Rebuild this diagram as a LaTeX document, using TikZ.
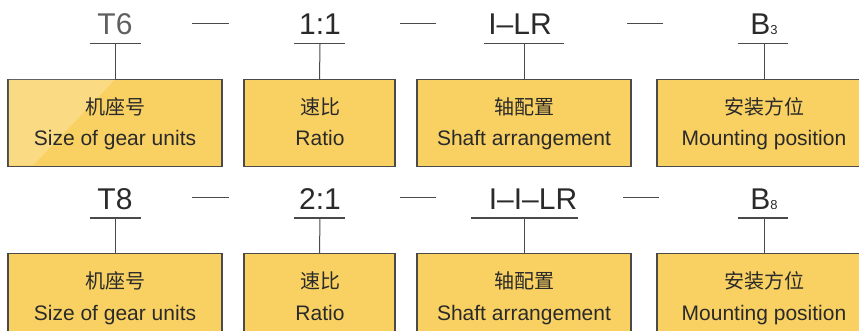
\documentclass[tikz,border=0pt]{standalone}
\usepackage{fontspec}
\setmainfont{Liberation Sans}
\newfontfamily\cjk{Noto Sans CJK SC}
\definecolor{boxfill}{HTML}{F9D162}
\definecolor{ink}{HTML}{2A2A2A}
\definecolor{lineclr}{HTML}{4A4A4A}
\newcommand\subnum[1]{{\fontsize{13}{13}\selectfont #1}}
\begin{document}
\begin{tikzpicture}[x=1pt,y=-1pt,
  box/.style={draw=lineclr, line width=1.1pt, fill=boxfill, minimum height=87pt, inner sep=0pt, anchor=north},
  code/.style={font=\fontsize{30}{30}\selectfont, text=ink, anchor=base, inner sep=0pt},
  cn/.style={font=\cjk\fontsize{20}{20}\selectfont, text=ink, inner sep=0pt},
  en/.style={font=\fontsize{21}{21}\selectfont, text=ink, anchor=base, inner sep=0pt},
  conn/.style={draw=lineclr, line width=1pt}]
\useasboundingbox (0,0) rectangle (859,331);
\clip (0,0) rectangle (859,331);

% ---------- top row ----------
\node[box, minimum width=214pt] (b1) at (115,79) {};
\fill[white, opacity=0.22] (8.5,79.5) -- (115,79.5) -- (33,165.5) -- (8.5,165.5) -- cycle;
\node[box, minimum width=151pt] (b2) at (319.5,79) {};
\node[box, minimum width=214pt] (b3) at (524,79) {};
\node[box, minimum width=214pt] (b4) at (764,79) {};

\node[code, text=ink!75] (l1) at (115,35) {T6};
\node[code] (l2) at (320,35) {1:1};
\node[code] (l3) at (520,35) {I--LR};
\node[code] (l4) at (764,35) {B\subnum{3}};

\coordinate (u1a) at (90,44);  \coordinate (u1b) at (141,44); \coordinate (u1) at (115,44);
\coordinate (u2a) at (294,44); \coordinate (u2b) at (345,44); \coordinate (u2) at (320,44);
\coordinate (u3a) at (484,44); \coordinate (u3b) at (564,44); \coordinate (u3) at (524,44);
\coordinate (u4a) at (738,44); \coordinate (u4b) at (788,44); \coordinate (u4) at (764,44);
\foreach \i in {1,2,3,4}{
  \draw[conn] (u\i a) -- (u\i b);
  \draw[conn] (u\i) -- (b\i.north);
}
\coordinate (d1a) at (192,24); \coordinate (d1b) at (229,24);
\coordinate (d2a) at (400,24); \coordinate (d2b) at (436,24);
\coordinate (d3a) at (627,24); \coordinate (d3b) at (663,24);
\foreach \i in {1,2,3}{ \draw[conn] (d\i a) -- (d\i b); }

\node[cn] (c1) at (115,107) {机座号};
\node[en] (e1) at (115,146) {Size of gear units};
\node[cn] (c2) at (320,107) {速比};
\node[en] (e2) at (320,146) {Ratio};
\node[cn] (c3) at (524,107) {轴配置};
\node[en] (e3) at (524,146) {Shaft arrangement};
\node[cn] (c4) at (764,107) {安装方位};
\node[en] (e4) at (764,146) {Mounting position};

% ---------- bottom row ----------
\node[box, minimum width=214pt] (B1) at (115,253) {};
\node[box, minimum width=151pt] (B2) at (319.5,253) {};
\node[box, minimum width=214pt] (B3) at (524,253) {};
\node[box, minimum width=214pt] (B4) at (764,253) {};

\node[code] (L1) at (115,209) {T8};
\node[code] (L2) at (320,209) {2:1};
\node[code] (L3) at (533,209) {I--I--LR};
\node[code] (L4) at (764,209) {B\subnum{8}};

\coordinate (U1a) at (90,218);  \coordinate (U1b) at (141,218); \coordinate (U1) at (115,218);
\coordinate (U2a) at (294,218); \coordinate (U2b) at (345,218); \coordinate (U2) at (320,218);
\coordinate (U3a) at (471,218); \coordinate (U3b) at (578,218); \coordinate (U3) at (524,218);
\coordinate (U4a) at (738,218); \coordinate (U4b) at (788,218); \coordinate (U4) at (764,218);
\foreach \i in {1,2,3,4}{
  \draw[conn] (U\i a) -- (U\i b);
  \draw[conn] (U\i) -- (B\i.north);
}
\coordinate (D1a) at (192,198); \coordinate (D1b) at (229,198);
\coordinate (D2a) at (400,198); \coordinate (D2b) at (436,198);
\coordinate (D3a) at (623,198); \coordinate (D3b) at (659,198);
\foreach \i in {1,2,3}{ \draw[conn] (D\i a) -- (D\i b); }

\node[cn] (C1) at (115,281) {机座号};
\node[en] (E1) at (115,320) {Size of gear units};
\node[cn] (C2) at (320,281) {速比};
\node[en] (E2) at (320,320) {Ratio};
\node[cn] (C3) at (524,281) {轴配置};
\node[en] (E3) at (524,320) {Shaft arrangement};
\node[cn] (C4) at (764,281) {安装方位};
\node[en] (E4) at (764,320) {Mounting position};
\end{tikzpicture}
\end{document}
